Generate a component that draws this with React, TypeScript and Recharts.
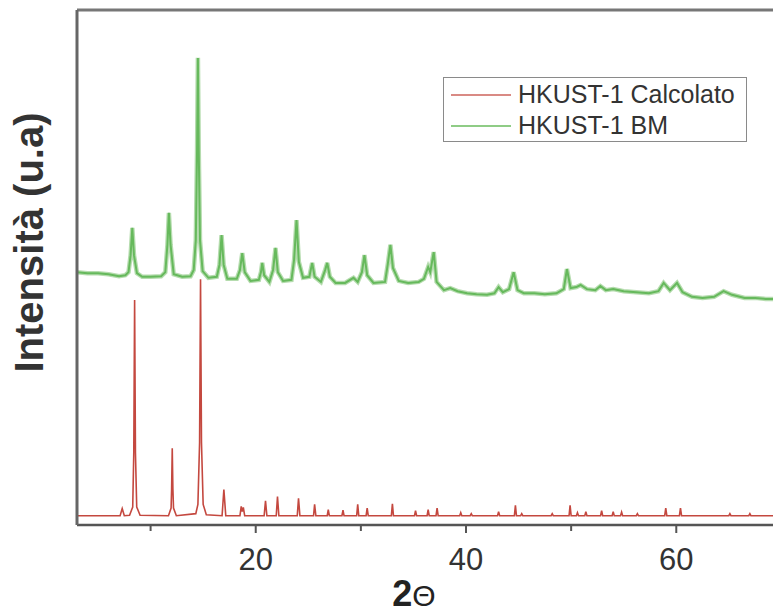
import { LineChart, Line, XAxis, YAxis, ReferenceLine, Legend } from 'recharts';

// 2θ (degrees) vs intensity (arbitrary units, 0–1000 across the frame)
const calcPattern: [number, number][] = [
    [3.0, 18], [7.1, 18], [7.3, 32], [7.5, 18],
    [8.0, 19], [8.3, 35], [8.4, 140], [8.48, 437], [8.56, 140], [8.68, 35], [9.0, 19],
    [11.7, 18], [11.95, 33], [12.0, 70], [12.06, 149], [12.12, 70], [12.18, 33], [12.45, 18],
    [14.3, 22], [14.5, 40], [14.66, 160], [14.75, 477], [14.84, 160], [15.0, 40], [15.3, 20],
    [16.8, 18], [16.97, 69], [17.15, 18],
    [18.5, 18], [18.62, 36], [18.72, 26], [18.82, 34], [18.95, 18],
    [20.8, 18], [20.93, 47], [21.06, 18],
    [21.95, 18], [22.07, 55], [22.2, 18],
    [23.95, 18], [24.07, 52], [24.2, 18],
    [25.5, 18], [25.6, 40], [25.72, 18],
    [26.8, 18], [26.9, 30], [27.0, 18],
    [28.2, 18], [28.3, 29], [28.4, 18],
    [29.6, 18], [29.7, 40], [29.8, 18],
    [30.5, 18], [30.6, 33], [30.7, 18],
    [32.9, 18], [33.0, 41], [33.1, 18],
    [35.1, 18], [35.2, 28], [35.3, 18],
    [36.3, 18], [36.4, 30], [36.5, 18],
    [37.15, 18], [37.25, 33], [37.35, 18],
    [39.4, 18], [39.5, 24], [39.6, 18],
    [40.4, 18], [40.5, 22], [40.6, 18],
    [43.0, 18], [43.1, 26], [43.2, 18],
    [44.6, 18], [44.7, 38], [44.8, 18],
    [45.2, 18], [45.3, 22], [45.4, 18],
    [48.1, 18], [48.2, 22], [48.3, 18],
    [49.8, 18], [49.9, 38], [50.0, 18],
    [50.5, 18], [50.6, 24], [50.7, 18],
    [51.3, 18], [51.4, 26], [51.5, 18],
    [52.8, 18], [52.9, 28], [53.0, 18],
    [53.9, 18], [54.0, 26], [54.1, 18],
    [54.7, 18], [54.8, 25], [54.9, 18],
    [56.2, 18], [56.3, 22], [56.4, 18],
    [58.9, 18], [59.0, 33], [59.1, 18],
    [60.3, 18], [60.4, 33], [60.5, 18],
    [65.0, 18], [65.1, 22], [65.2, 18],
    [66.9, 18], [67.0, 22], [67.1, 18],
    [69.2, 18],
];

const bmPattern: [number, number][] = [
    [3.0, 491], [4.0, 489], [5.0, 489], [6.0, 487], [7.0, 483], [7.6, 485],
    [7.9, 491], [8.1, 524], [8.26, 577], [8.42, 524], [8.7, 489],
    [9.2, 482], [10.0, 482], [11.0, 483],
    [11.4, 491], [11.6, 544], [11.74, 606], [11.9, 544], [12.2, 487],
    [13.0, 482], [13.8, 483],
    [14.1, 495], [14.3, 553], [14.42, 728], [14.5, 907], [14.58, 728], [14.7, 553], [14.95, 493],
    [15.5, 480], [16.3, 482],
    [16.55, 505], [16.75, 563], [16.95, 505], [17.3, 478],
    [18.2, 478], [18.5, 495], [18.72, 528], [18.95, 491],
    [19.5, 474], [20.3, 476], [20.5, 491], [20.62, 509], [20.8, 485],
    [21.3, 472], [21.65, 495], [21.88, 538], [22.1, 491],
    [22.6, 474], [23.4, 476], [23.65, 515], [23.88, 592], [24.1, 511],
    [24.5, 480], [25.1, 482], [25.37, 509], [25.6, 482],
    [26.2, 472], [26.6, 495], [26.8, 509], [27.05, 482],
    [27.6, 470], [28.5, 470], [29.3, 480], [29.7, 472],
    [30.1, 491], [30.34, 524], [30.6, 485],
    [31.2, 470], [32.3, 472], [32.55, 505], [32.81, 544], [33.05, 499],
    [33.6, 474], [34.5, 470], [35.5, 472], [36.0, 478],
    [36.4, 501], [36.6, 491], [36.93, 530], [37.2, 472],
    [37.9, 456], [38.5, 460], [39.2, 454], [40.1, 450], [41.0, 448], [42.0, 447], [42.7, 450],
    [43.1, 462], [43.5, 452], [44.1, 458], [44.53, 491], [44.9, 456],
    [45.5, 450], [46.5, 450], [47.5, 448], [48.6, 450],
    [49.3, 458], [49.6, 497], [49.95, 460], [50.5, 462], [50.9, 466], [51.5, 458],
    [52.3, 456], [52.78, 464], [53.3, 456], [54.0, 458], [55.0, 454], [56.2, 452], [57.4, 450],
    [58.3, 454], [58.8, 470], [59.4, 456], [60.07, 470], [60.6, 452],
    [61.5, 443], [62.5, 441], [63.6, 443], [64.5, 454], [65.3, 447],
    [66.5, 441], [67.5, 441], [68.5, 439], [69.2, 439],
];

const xTicks = [10, 20, 30, 40, 50, 60];
const labelledTicks = [20, 40, 60];
const seriesNames = ['HKUST-1 Calcolato', 'HKUST-1 BM'];

const calcData = calcPattern.map(([x, y]) => ({ x, y }));
const bmData = bmPattern.map(([x, y]) => ({ x, y }));

const FONT = '"Liberation Sans", Arial, sans-serif';
const RED = '#c4483f';
const GREEN = '#66b95c';

const AxisTick = ({ x, y, payload }: any) => {
    const major = labelledTicks.includes(payload.value);
    return (
        <g>
            <line x1={x} x2={x} y1={y} y2={y + (major ? 8 : 6)} stroke="#555" strokeWidth={2} />
            {major && (
                <text x={x} y={y + 45} textAnchor="middle" fontSize={31} fontFamily={FONT} fill="#333">
                    {payload.value}
                </text>
            )}
        </g>
    );
};

const LegendBox = () => (
    <div
        style={{
            width: 304,
            height: 65,
            boxSizing: 'border-box',
            border: '1.5px solid #8a8a8a',
            background: '#fff',
            fontFamily: FONT,
            fontSize: 25,
            color: '#333',
            paddingTop: 1,
        }}
    >
        {seriesNames.map((name, i) => (
            <div key={name} style={{ display: 'flex', alignItems: 'center', height: 31, lineHeight: '31px' }}>
                <div style={{ width: 60, height: 2, marginLeft: 7, marginRight: 7, background: i === 0 ? '#d98a84' : '#8fcc86' }} />
                <span>{name}</span>
            </div>
        ))}
    </div>
);

export default function App() {
    return (
        <div style={{ position: 'absolute', left: 0, top: 0, width: 773, height: 615, background: '#fff', overflow: 'hidden' }}>
            <LineChart width={773} height={615} margin={{ top: 10, right: 0, left: 0, bottom: 0 }}>
                <XAxis
                    dataKey="x"
                    type="number"
                    domain={[3, 69.2]}
                    ticks={xTicks}
                    allowDataOverflow
                    height={90}
                    tickSize={0}
                    tickMargin={0}
                    tickLine={false}
                    tick={<AxisTick />}
                    axisLine={{ stroke: '#555', strokeWidth: 2.5 }}
                    label={{
                        content: ({ viewBox }: any) => (
                            <text
                                x={viewBox.x + 337}
                                y={viewBox.y + 81}
                                textAnchor="middle"
                                fontFamily={FONT}
                                fill="#222"
                            >
                                <tspan fontSize={36} fontWeight="bold">2</tspan>
                                <tspan fontSize={30}>Θ</tspan>
                            </text>
                        ),
                    }}
                />
                <YAxis
                    type="number"
                    domain={[0, 1000]}
                    width={77}
                    tick={false}
                    tickLine={false}
                    axisLine={{ stroke: '#666', strokeWidth: 3 }}
                    label={{
                        content: ({ viewBox }: any) => {
                            const cx = viewBox.x + 43;
                            const cy = viewBox.y + viewBox.height / 2 - 25;
                            return (
                                <text
                                    x={cx}
                                    y={cy}
                                    transform={`rotate(-90, ${cx}, ${cy})`}
                                    textAnchor="middle"
                                    fontSize={40}
                                    fontWeight="bold"
                                    fontFamily={FONT}
                                    fill="#333"
                                >
                                    Intensità (u.a)
                                </text>
                            );
                        },
                    }}
                />
                <ReferenceLine y={1000} stroke="#777" strokeWidth={3} />
                <Legend
                    layout="horizontal"
                    verticalAlign="middle"
                    align="center"
                    content={<LegendBox />}
                    wrapperStyle={{ left: 443, top: 77, width: 304 }}
                />
                <Line
                    data={bmData}
                    dataKey="y"
                    type="linear"
                    stroke="#b5dcae"
                    strokeWidth={4.5}
                    dot={false}
                    legendType="none"
                    isAnimationActive={false}
                />
                <Line
                    data={bmData}
                    dataKey="y"
                    name={seriesNames[1]}
                    type="linear"
                    stroke={GREEN}
                    strokeWidth={2}
                    dot={false}
                    isAnimationActive={false}
                />
                <Line
                    data={calcData}
                    dataKey="y"
                    name={seriesNames[0]}
                    type="linear"
                    stroke={RED}
                    strokeWidth={1.6}
                    dot={false}
                    isAnimationActive={false}
                />
            </LineChart>
        </div>
    );
}
